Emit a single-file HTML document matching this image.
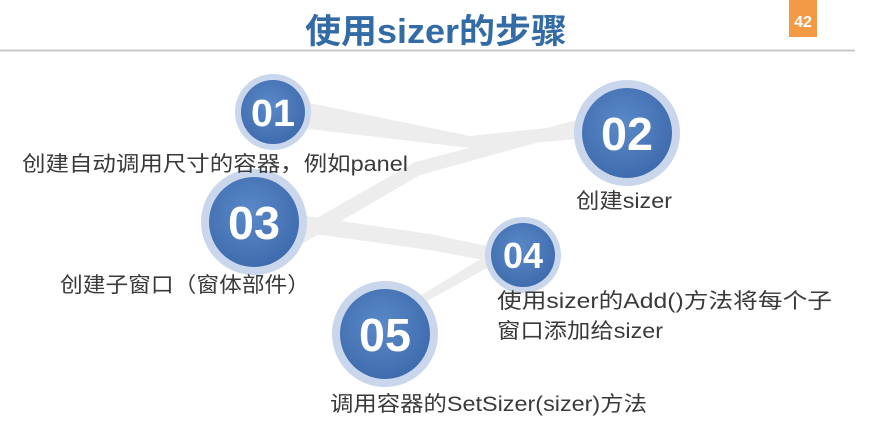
<!DOCTYPE html>
<html><head><meta charset="utf-8"><style>
html,body{margin:0;padding:0;background:#fff;}
svg{display:block;}
text{font-family:"Liberation Sans","Noto Sans CJK SC",sans-serif;}
</style></head><body>
<svg width="871" height="421" viewBox="0 0 871 421" xmlns="http://www.w3.org/2000/svg">
<defs>
<radialGradient id="g" cx="45%" cy="40%" r="60%">
<stop offset="0" stop-color="#5a89c8"/><stop offset="1" stop-color="#3f6cae"/>
</radialGradient>
</defs>
<rect width="871" height="421" fill="#fff"/>
<text x="436" y="43" text-anchor="middle" font-size="34" font-weight="bold" fill="#336ba6" textLength="262" lengthAdjust="spacingAndGlyphs">使用sizer的步骤</text>
<rect x="789" y="0" width="28" height="37" fill="#f39a45"/>
<text x="803" y="27" text-anchor="middle" font-size="16" font-weight="bold" fill="#fff">42</text>
<line x1="0" y1="50.5" x2="855" y2="50.5" stroke="#c8c8c8" stroke-width="2"/>
<g fill="#ededed">
<polygon points="295,100 300,128 470,148 590,138 585,124 470,136"/>
<polygon points="292,232 300,245 420,175 590,128 585,118 415,162"/>
<polygon points="292,214 300,232 430,250 495,262 497,248 430,234"/>
<polygon points="410,302 418,306 498,262 492,252"/>
</g>
<g>
<circle cx="273" cy="112" r="38" fill="#c9d6ec"/><circle cx="273" cy="112" r="32" fill="url(#g)"/>
<circle cx="627" cy="133" r="53" fill="#c9d6ec"/><circle cx="627" cy="133" r="45" fill="url(#g)"/>
<circle cx="254" cy="222" r="53" fill="#c9d6ec"/><circle cx="254" cy="222" r="45" fill="url(#g)"/>
<circle cx="523" cy="255" r="38" fill="#c9d6ec"/><circle cx="523" cy="255" r="32" fill="url(#g)"/>
<circle cx="385" cy="334" r="53" fill="#c9d6ec"/><circle cx="385" cy="334" r="45" fill="url(#g)"/>
</g>
<g fill="#fff" font-weight="bold" text-anchor="middle">
<text x="273" y="126" font-size="38" textLength="44" lengthAdjust="spacingAndGlyphs">01</text>
<text x="627" y="150" font-size="46" textLength="52" lengthAdjust="spacingAndGlyphs">02</text>
<text x="254" y="239" font-size="46" textLength="52" lengthAdjust="spacingAndGlyphs">03</text>
<text x="523" y="268" font-size="36" textLength="40" lengthAdjust="spacingAndGlyphs">04</text>
<text x="385" y="351" font-size="46" textLength="52" lengthAdjust="spacingAndGlyphs">05</text>
</g>
<g fill="#3a3a3a" font-size="21">
<text x="22" y="171" textLength="386" lengthAdjust="spacingAndGlyphs">创建自动调用尺寸的容器，例如panel</text>
<text x="576" y="208" textLength="96" lengthAdjust="spacingAndGlyphs">创建sizer</text>
<text x="60" y="292" textLength="250" lengthAdjust="spacingAndGlyphs">创建子窗口（窗体部件）</text>
<text x="497" y="308" textLength="335" lengthAdjust="spacingAndGlyphs">使用sizer的Add()方法将每个子</text>
<text x="497" y="338" textLength="166" lengthAdjust="spacingAndGlyphs">窗口添加给sizer</text>
<text x="330" y="411" textLength="317" lengthAdjust="spacingAndGlyphs">调用容器的SetSizer(sizer)方法</text>
</g>
</svg>
</body></html>
